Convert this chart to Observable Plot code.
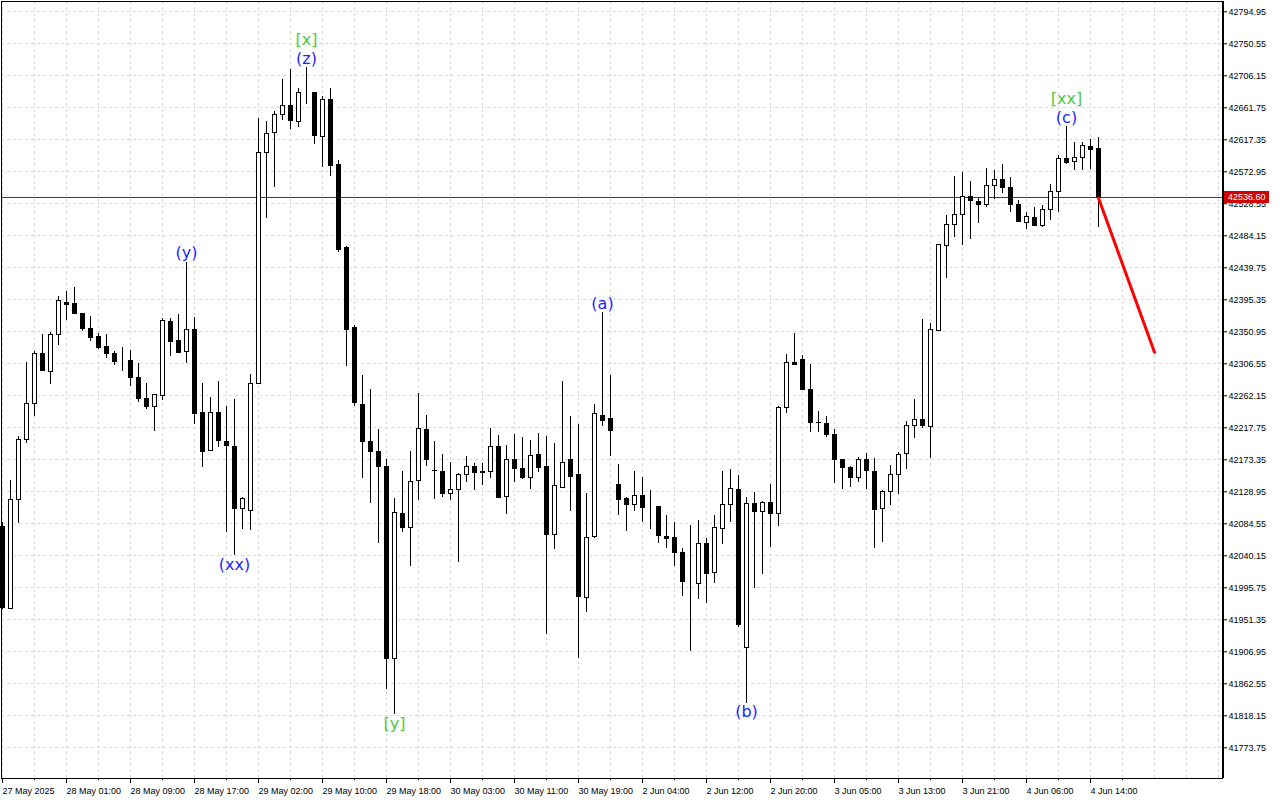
<!DOCTYPE html>
<html><head><meta charset="utf-8">
<script src="https://cdn.jsdelivr.net/npm/d3@7"></script>
<script src="https://cdn.jsdelivr.net/npm/@observablehq/plot@0.6"></script>
<style>
html,body{margin:0;padding:0;background:#fff;}
#chart{position:absolute;left:0;top:0;width:1280px;height:800px;}
</style></head><body><div id="chart"></div>
<script>
// Hourly candles, 27 May 2025 17:00 .. 4 Jun 2025 15:00 (index = candle number)
const openP = [
42079.8,41966.6,42117.5,42201.1,42251.1,42319.5,42295.5,42347.2,42391.6,42389.8,
42376.3,42355.1,42343.6,42329.2,42320.4,42309.3,42309.8,42286.6,42258.4,42246.9,
42261.6,42365.2,42337.5,42323.2,42353.7,42237.6,42185.3,42237.6,42198.7,42191.2,
42105.5,42102.0,42278.2,42599.6,42626.2,42652.0,42664.4,42642.2,42683.3,42682.8,
42621.4,42673.0,42582.8,42467.8,42355.7,42249.8,42198.6,42184.7,42164.0,41896.7,
42098.4,42078.3,42143.9,42214.7,42157.8,42157.1,42126.2,42131.7,42152.5,42163.6,
42157.1,42156.7,42191.4,42121.5,42172.4,42159.9,42147.8,42180.7,42163.6,42068.7,
42134.5,42172.8,42151.6,41981.9,42065.9,42234.4,42230.6,42137.7,42118.3,42111.0,
42123.4,42106.7,42107.2,42066.9,42064.2,42044.7,42002.7,42001.3,42057.0,42016.6,
42077.1,42110.9,42131.7,41912.6,42112.3,42100.6,42113.7,42098.4,42245.5,42307.9,
42312.1,42270.5,42224.7,42223.3,42208.4,42173.4,42161.3,42148.4,42173.4,42157.1,
42104.9,42128.4,42152.5,42181.1,42220.0,42229.2,42218.6,42352.7,42470.3,42499.4,
42513.3,42538.3,42531.7,42527.2,42553.5,42560.9,42550.8,42527.2,42502.6,42509.5,
42497.5,42520.2,42545.2,42591.0,42586.2,42592.4,42607.6,42604.9];
const highP = [
42086.4,42144.6,42205.7,42308.4,42324.0,42347.2,42350.0,42399.9,42406.9,42412.8,
42377.0,42372.3,42349.2,42347.2,42323.6,42328.8,42325.0,42307.0,42278.8,42264.0,
42369.0,42369.0,42375.0,42447.5,42370.9,42278.8,42260.2,42282.0,42246.7,42257.0,
42121.0,42292.0,42647.0,42642.2,42656.5,42700.6,42715.0,42688.3,42717.5,42683.5,
42676.9,42688.8,42588.6,42469.6,42359.2,42290.2,42270.9,42215.2,42173.9,42120.3,
42157.1,42184.7,42265.3,42234.8,42199.1,42180.7,42169.6,42153.9,42177.9,42167.8,
42168.6,42216.8,42207.1,42193.2,42208.4,42204.7,42200.1,42210.2,42205.7,42196.4,
42281.6,42233.4,42222.3,42127.0,42249.7,42377.3,42290.3,42166.8,42120.6,42157.1,
42148.8,42130.7,42108.6,42096.1,42086.4,42050.7,42082.2,42089.1,42064.0,42095.6,
42157.1,42159.9,42151.6,42120.6,42128.0,42115.5,42139.1,42247.3,42319.5,42348.2,
42317.6,42305.1,42240.4,42233.8,42214.9,42174.0,42164.0,42176.1,42182.5,42174.7,
42130.7,42165.4,42183.1,42226.1,42257.0,42368.0,42362.4,42472.5,42512.3,42566.4,
42571.6,42559.5,42536.3,42577.1,42574.3,42583.1,42565.5,42532.7,42516.0,42523.0,
42526.6,42554.9,42595.2,42635.4,42613.1,42613.1,42617.3,42620.1];
const lowP = [
41965.6,41965.5,42085.4,42196.4,42233.4,42295.5,42277.4,42332.4,42366.6,42374.5,
42351.8,42337.5,42326.8,42313.9,42304.6,42296.3,42275.1,42252.9,42242.7,42213.0,
42256.0,42317.1,42320.4,42307.4,42222.7,42163.1,42184.4,42191.1,42072.3,42040.0,
42077.2,42075.8,42277.5,42508.3,42550.5,42644.7,42632.2,42634.7,42665.9,42611.4,
42578.8,42566.4,42461.5,42302.7,42247.4,42147.4,42112.9,42057.1,41855.1,41819.5,
42072.6,42025.4,42116.9,42164.6,42118.7,42121.5,42117.3,42031.3,42142.2,42130.7,
42137.7,42147.8,42120.1,42097.5,42141.8,42146.4,42132.1,42155.7,41931.0,42048.9,
42134.0,42102.0,41898.2,41962.0,42063.7,42219.9,42178.3,42096.5,42074.3,42102.0,
42086.8,42076.2,42057.6,42050.7,42025.7,41984.1,41907.8,41979.1,41974.4,42002.1,
42055.4,42086.8,41940.2,41835.6,41994.4,42014.2,42052.1,42081.2,42238.0,42304.5,
42269.5,42211.6,42211.6,42204.7,42140.0,42132.5,42135.3,42142.2,42132.5,42049.9,
42059.0,42109.9,42125.2,42160.3,42203.3,42216.3,42175.6,42351.8,42425.3,42481.8,
42470.4,42479.4,42501.6,42523.0,42534.9,42542.4,42516.1,42503.0,42492.5,42497.5,
42495.2,42504.9,42516.9,42582.7,42574.7,42574.7,42576.6,42496.1];
const closeP = [
41968.0,42116.9,42201.1,42251.1,42319.5,42296.3,42347.2,42394.0,42388.8,42375.4,
42354.6,42342.2,42328.2,42319.9,42308.8,42309.3,42286.6,42257.4,42246.3,42263.5,
42366.6,42336.5,42321.3,42353.7,42236.6,42183.9,42238.6,42199.4,42192.6,42104.5,
42118.8,42278.2,42599.0,42625.8,42652.0,42664.0,42643.2,42682.8,42683.3,42622.3,
42672.9,42581.4,42464.9,42353.3,42252.0,42198.0,42183.6,42162.9,41896.7,42099.6,
42078.3,42142.8,42216.3,42172.6,42157.5,42125.6,42132.1,42152.5,42163.6,42154.7,
42155.7,42191.4,42121.0,42172.4,42160.3,42147.8,42178.9,42161.3,42068.7,42137.3,
42169.6,42148.8,41982.7,42065.1,42237.2,42226.9,42213.0,42117.3,42110.4,42123.4,
42106.2,42106.7,42067.3,42063.2,42043.7,42003.5,42002.7,42057.0,42014.6,42079.0,
42111.3,42133.1,41944.8,42112.3,42100.6,42113.7,42098.4,42245.5,42307.9,42305.1,
42270.5,42224.7,42224.5,42207.5,42172.8,42161.7,42147.8,42173.4,42157.5,42103.5,
42129.3,42152.9,42180.3,42220.5,42228.8,42220.0,42353.7,42471.7,42499.4,42513.7,
42538.3,42532.7,42527.2,42553.5,42561.8,42550.8,42527.2,42503.6,42510.5,42498.0,
42520.2,42545.2,42590.4,42584.9,42592.4,42609.0,42602.9,42536.6];

const xTickLabels = ["27 May 2025","28 May 01:00","28 May 09:00","28 May 17:00","29 May 02:00",
  "29 May 10:00","29 May 18:00","30 May 03:00","30 May 11:00","30 May 19:00","2 Jun 04:00",
  "2 Jun 12:00","2 Jun 20:00","3 Jun 05:00","3 Jun 13:00","3 Jun 21:00","4 Jun 06:00","4 Jun 14:00"];
const yTickLabels = ["42794.95","42750.55","42706.15","42661.75","42617.35","42572.95","42528.55",
  "42484.15","42439.75","42395.35","42350.95","42306.55","42262.15","42217.75","42173.35","42128.95",
  "42084.55","42040.15","41995.75","41951.35","41906.95","41862.55","41818.15","41773.75"];

// Wave labels
const waveIdx  = [23, 29, 38, 38, 49, 75, 93, 133, 133];
const waveText = ["(y)","(xx)","(z)","[x]","[y]","(a)","(b)","(c)","[xx]"];
const waveSide = ["high","low","high","high","low","high","low","high","high"];
const waveTier = [0, 0, 0, 1, 0, 0, 0, 0, 1];

// Forecast line
const forecastIdx = [137, 144];
const forecastPrice = [42536.6, 42322.6];

const lastClose = closeP[closeP.length - 1];

const candles = openP.map((o, i) => ({i, open: o, high: highP[i], low: lowP[i], close: closeP[i]}));
const yTicks = yTickLabels.map(Number);
const xTicks = xTickLabels.map((_, k) => k * 8);
const xMinor = xTicks.map(v => v + 4);
const waves = waveText.map((t, k) => ({
  i: waveIdx[k], text: t, side: waveSide[k], tier: waveTier[k],
  y: waveSide[k] === "high" ? highP[waveIdx[k]] : lowP[waveIdx[k]],
  color: t.startsWith("[") ? "#4cc93f" : "#1e1eff"
}));
const forecast = forecastIdx.map((v, k) => ({i: v, p: forecastPrice[k]}));

const xDomain = [-0.125, 152.5];
const yDomain = [41731.15, 42809.24];
const waveFont = {fontSize: 16, fontFamily: "'DejaVu Sans', Verdana, sans-serif"};

const chart = Plot.plot({
  width: 1280, height: 800,
  marginLeft: 1, marginRight: 58, marginTop: 1, marginBottom: 22,
  style: {fontFamily: "'Liberation Sans', Arial, sans-serif", fontSize: "9px", background: "#fff", color: "#000", overflow: "visible"},
  x: {type: "linear", domain: xDomain},
  y: {type: "linear", domain: yDomain},
  marks: [
    Plot.gridY(yTicks, {stroke: "#dadada", strokeOpacity: 1, strokeDasharray: "3,3", shapeRendering: "crispEdges"}),
    Plot.gridX(d3.range(0, 153, 4), {stroke: "#dadada", strokeOpacity: 1, strokeDasharray: "3,3", shapeRendering: "crispEdges"}),
    Plot.ruleY([lastClose], {stroke: "#6e2a2a", strokeWidth: 1, shapeRendering: "crispEdges"}),
    Plot.ruleX(candles, {x: "i", y1: "low", y2: "high", stroke: "#000", strokeWidth: 1, shapeRendering: "crispEdges"}),
    Plot.rect(candles, {
      x1: d => d.i - 0.25, x2: d => d.i + 0.25, y1: "open", y2: "close",
      fill: d => d.close >= d.open ? "#fff" : "#000", stroke: "#000", strokeWidth: 1, shapeRendering: "crispEdges"
    }),
    Plot.line(forecast, {x: "i", y: "p", stroke: "#ff0000", strokeWidth: 3}),
    Plot.text(waves.filter(d => d.side === "high" && d.tier === 0), {x: "i", y: "y", dy: -9, text: "text", fill: "color", ...waveFont}),
    Plot.text(waves.filter(d => d.side === "high" && d.tier === 1), {x: "i", y: "y", dy: -28, text: "text", fill: "color", ...waveFont}),
    Plot.text(waves.filter(d => d.side === "low"), {x: "i", y: "y", dy: 9, text: "text", fill: "color", ...waveFont}),
    Plot.frame({stroke: "#000", shapeRendering: "crispEdges"}),
    Plot.ruleX([xDomain[1]], {stroke: "#000", strokeWidth: 2, shapeRendering: "crispEdges"}),
    Plot.axisY(yTicks, {anchor: "right", tickSize: 4, tickPadding: 2, label: null,
      tickFormat: d => d.toFixed(2), stroke: "#000", fill: "#000"}),
    Plot.axisX(xTicks, {anchor: "bottom", tickSize: 5, tickPadding: 4, label: null, textAnchor: "start",
      tickFormat: d => xTickLabels[Math.round(d / 8)], stroke: "#000", fill: "#000"}),
    Plot.axisX(xMinor, {anchor: "bottom", tickSize: 2, label: null, tickFormat: () => "", stroke: "#000"})
  ]
});

document.getElementById("chart").appendChild(chart);

// current price tag on the right axis
const yy = chart.scale("y").apply(lastClose);
const tag = d3.select(chart).append("g").attr("text-anchor", "start");
tag.append("rect").attr("x", 1224).attr("y", Math.round(yy) - 6).attr("width", 45).attr("height", 12).attr("fill", "#d00000");
tag.append("text").attr("x", 1228).attr("y", Math.round(yy)).attr("dy", "0.35em").attr("text-anchor", "start")
  .attr("fill", "#fff").attr("font-size", 9).attr("font-family", "'Liberation Sans', Arial, sans-serif")
  .text(lastClose.toFixed(2));
</script></body></html>
